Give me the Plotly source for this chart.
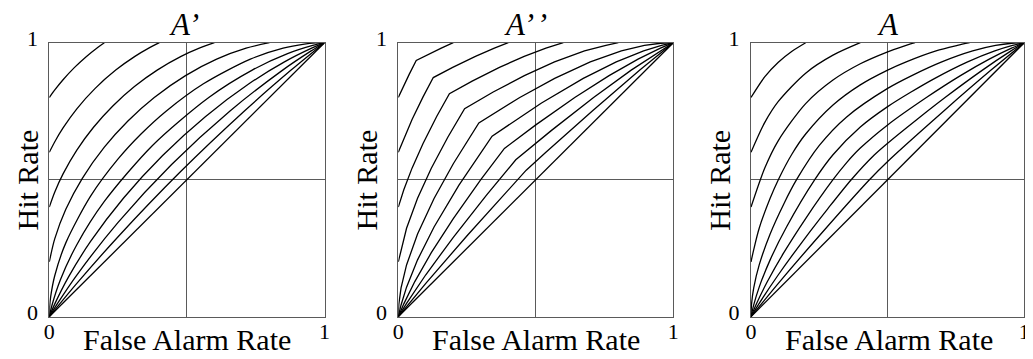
import plotly.graph_objects as go

# ---------------- data ----------------
panel_titles = ["A’", "A’\u200a’", "A"]
levels = [0.50, 0.55, 0.60, 0.65, 0.70, 0.75, 0.80, 0.85, 0.90, 0.95]
tick_vals = [0, 0.5, 1]
tick_text = ["0", "", "1"]

# Panel 1: A'  (false-alarm rate / hit rate per curve)
aprime_far = [
    [0, 1],
    [0, 0.1, 0.25, 0.4737, 0.708, 0.8786, 1],
    [0, 0.03, 0.1, 0.25, 0.4444, 0.6556, 0.848, 0.9515, 1],
    [0, 0.02, 0.07, 0.15, 0.27, 0.4118, 0.5669, 0.7255, 0.8545, 0.9532, 1],
    [0, 0.01, 0.04, 0.1, 0.2, 0.375, 0.5795, 0.7373, 0.8658, 0.9571, 1],
    [0, 0.001, 0.005, 0.02, 0.06, 0.15, 0.25, 0.3333, 0.4243, 0.5601, 0.7306, 0.8496, 0.9269, 0.9679, 1],
    [0, 0.02, 0.06, 0.12, 0.2, 0.2857, 0.3814, 0.4949, 0.6081, 0.7152, 0.8],
    [0, 0.02, 0.05, 0.1, 0.16, 0.2308, 0.3094, 0.392, 0.4789, 0.5449, 0.6],
    [0, 0.02, 0.05, 0.1, 0.1667, 0.2414, 0.3111, 0.3613, 0.4],
    [0, 0.02, 0.05, 0.0909, 0.1351, 0.1723, 0.2],
]
aprime_hit = [
    [0, 1],
    [0, 0.1214, 0.292, 0.5263, 0.75, 0.9, 1],
    [0, 0.0485, 0.152, 0.3444, 0.5556, 0.75, 0.9, 0.97, 1],
    [0, 0.0468, 0.1455, 0.2745, 0.4331, 0.5882, 0.73, 0.85, 0.93, 0.98, 1],
    [0, 0.0429, 0.1342, 0.2627, 0.4205, 0.625, 0.8, 0.9, 0.96, 0.99, 1],
    [0, 0.0321, 0.0731, 0.1504, 0.2694, 0.4399, 0.5757, 0.6667, 0.75, 0.85, 0.94, 0.98, 0.995, 0.999, 1],
    [0.2, 0.2848, 0.3919, 0.5051, 0.6186, 0.7143, 0.8, 0.88, 0.94, 0.98, 1],
    [0.4, 0.4551, 0.5212, 0.608, 0.6906, 0.7692, 0.84, 0.9, 0.95, 0.98, 1],
    [0.6, 0.6387, 0.6889, 0.7586, 0.8333, 0.9, 0.95, 0.98, 1],
    [0.8, 0.8277, 0.8649, 0.9091, 0.95, 0.98, 1],
]

# Panel 2: A''
adbl_far = [
    [0, 1],
    [0, 0.1, 0.25, 0.4, 0.4652, 0.5367, 0.7044, 0.8783, 1],
    [0, 0.03, 0.1, 0.2, 0.32, 0.4272, 0.5572, 0.7101, 0.8469, 0.9515, 1],
    [0, 0.02, 0.06, 0.12, 0.2, 0.3, 0.3859, 0.5, 0.6417, 0.7664, 0.8718, 0.9531, 1],
    [0, 0.01, 0.03, 0.07, 0.13, 0.22, 0.3411, 0.5208, 0.6727, 0.7926, 0.8921, 0.9571, 1],
    [0, 0.002, 0.01, 0.03, 0.07, 0.13, 0.2, 0.2929, 0.4417, 0.5686, 0.6981, 0.8111, 0.8949, 0.9543, 1],
    [0, 0.01, 0.03, 0.07, 0.12, 0.18, 0.2411, 0.3451, 0.4584, 0.568, 0.6771, 0.755, 0.8],
    [0, 0.02, 0.05, 0.09, 0.14, 0.1859, 0.2686, 0.3677, 0.4578, 0.5368, 0.6],
    [0, 0.02, 0.05, 0.09, 0.1272, 0.1978, 0.2805, 0.3493, 0.4],
    [0, 0.02, 0.04, 0.0652, 0.1148, 0.1563, 0.2],
]
adbl_hit = [
    [0, 1],
    [0, 0.1217, 0.2956, 0.4633, 0.5348, 0.6, 0.75, 0.9, 1],
    [0, 0.0485, 0.1531, 0.2899, 0.4428, 0.5728, 0.68, 0.8, 0.9, 0.97, 1],
    [0, 0.0469, 0.1282, 0.2336, 0.3583, 0.5, 0.6141, 0.7, 0.8, 0.88, 0.94, 0.98, 1],
    [0, 0.0429, 0.1079, 0.2074, 0.3273, 0.4792, 0.6589, 0.78, 0.87, 0.93, 0.97, 0.99, 1],
    [0, 0.0457, 0.1051, 0.1889, 0.3019, 0.4314, 0.5583, 0.7071, 0.8, 0.87, 0.93, 0.97, 0.99, 0.998, 1],
    [0.2, 0.245, 0.3229, 0.432, 0.5416, 0.6549, 0.7589, 0.82, 0.88, 0.93, 0.97, 0.99, 1],
    [0.4, 0.4632, 0.5422, 0.6323, 0.7314, 0.8141, 0.86, 0.91, 0.95, 0.98, 1],
    [0.6, 0.6507, 0.7195, 0.8022, 0.8728, 0.91, 0.95, 0.98, 1],
    [0.8, 0.8437, 0.8852, 0.9349, 0.96, 0.98, 1],
]

# Panel 3: A
a_far = [
    [0, 1],
    [0, 0.1, 0.25, 0.4333, 0.5, 0.7044, 0.8783, 1],
    [0, 0.03, 0.1, 0.2, 0.28, 0.3667, 0.45, 0.5, 0.6072, 0.7101, 0.8469, 0.9515, 1],
    [0, 0.02, 0.06, 0.12, 0.2, 0.3, 0.35, 0.4, 0.5, 0.6417, 0.7664, 0.8718, 0.9531, 1],
    [0, 0.01, 0.03, 0.07, 0.13, 0.2333, 0.3, 0.4, 0.5, 0.5856, 0.6727, 0.7926, 0.8921, 0.9571, 1],
    [0, 0.002, 0.01, 0.03, 0.07, 0.12, 0.1667, 0.25, 0.35, 0.5, 0.5884, 0.6981, 0.8111, 0.8949, 0.9543, 1],
    [0, 0.01, 0.03, 0.07, 0.1, 0.15, 0.2, 0.3, 0.4, 0.5, 0.568, 0.6771, 0.755, 0.8],
    [0, 0.05, 0.1, 0.2, 0.3, 0.4, 0.5, 0.5516, 0.6],
    [0, 0.05, 0.1, 0.2, 0.3, 0.4],
    [0, 0.05, 0.1, 0.15, 0.2],
]
a_hit = [
    [0, 1],
    [0, 0.1217, 0.2956, 0.5, 0.5667, 0.75, 0.9, 1],
    [0, 0.0485, 0.1531, 0.2899, 0.3928, 0.5, 0.5893, 0.6333, 0.72, 0.8, 0.9, 0.97, 1],
    [0, 0.0469, 0.1282, 0.2336, 0.3583, 0.5, 0.5625, 0.6154, 0.7, 0.8, 0.88, 0.94, 0.98, 1],
    [0, 0.0429, 0.1079, 0.2074, 0.3273, 0.5, 0.5909, 0.6923, 0.7667, 0.82, 0.87, 0.93, 0.97, 0.99, 1],
    [0, 0.0457, 0.1051, 0.1889, 0.3019, 0.4116, 0.5, 0.625, 0.7292, 0.8333, 0.88, 0.93, 0.97, 0.99, 0.998, 1],
    [0.2, 0.245, 0.3229, 0.432, 0.5, 0.5938, 0.6667, 0.7727, 0.8462, 0.9, 0.93, 0.97, 0.99, 1],
    [0.4, 0.5417, 0.6429, 0.7778, 0.8636, 0.9231, 0.9667, 0.985, 1],
    [0.6, 0.7083, 0.7857, 0.8889, 0.9545, 1],
    [0.8, 0.875, 0.9286, 0.9688, 1],
]

# ---------------- layout constants ----------------
# The page body has an 8px margin, so the figure is drawn 8px smaller and
# every position (measured in window pixels) is shifted by that offset.
OFF = 8
W, H = 1033 - OFF, 359 - OFF
x_domains_px = [(49.3, 324.5), (398.3, 673.3), (751.0, 1024.3)]
y_domain_px = (42.7, 316.7)
title_x_px = [184, 525, 887.5]
title_y_px = 25
ylab_x_px = [26.5, 365.5, 718.7]
ylab_y_px = 180
xlab_x_px = [187, 536, 889]
xlab_y_px = 339.5


def px_x(p):
    return (p - OFF) / W


def px_y(p):
    return 1 - (p - OFF) / H


SERIF = "Liberation Serif, Times New Roman, serif"
FRAME = "#5a5a5a"

fig = go.Figure()

panels = [
    (aprime_far, aprime_hit, "spline"),
    (adbl_far, adbl_hit, "linear"),
    (a_far, a_hit, "spline"),
]

for i, (fx, hy, shape) in enumerate(panels):
    sfx = "" if i == 0 else str(i + 1)
    for lev, xs, ys in zip(levels, fx, hy):
        fig.add_trace(go.Scatter(
            x=xs, y=ys, mode="lines",
            line=dict(color="black", width=1.3, shape=shape, smoothing=0.8),
            xaxis="x" + sfx, yaxis="y" + sfx,
            name=f"{panel_titles[i]} = {lev:.2f}",
            showlegend=False, hoverinfo="skip",
        ))

layout_axes = {}
ydom = [px_y(y_domain_px[1]), px_y(y_domain_px[0])]
for i in range(3):
    sfx = "" if i == 0 else str(i + 1)
    xd = [px_x(x_domains_px[i][0]), px_x(x_domains_px[i][1])]
    common = dict(
        range=[0, 1], showline=True, mirror=True, linecolor=FRAME, linewidth=1,
        showgrid=True, gridcolor=FRAME, gridwidth=1, zeroline=False,
        tickvals=tick_vals, ticktext=tick_text, ticks="",
        tickfont=dict(family=SERIF, size=22, color="black"),
        fixedrange=True, automargin=False,
    )
    layout_axes["xaxis" + sfx] = dict(common, domain=xd, anchor="y" + sfx,
                                      ticklabelstandoff=-5)
    layout_axes["yaxis" + sfx] = dict(common, domain=ydom, anchor="x" + sfx,
                                      ticklabelstandoff=6, ticklabelshift=-4)

annotations = []
for i in range(3):
    annotations.append(dict(
        text=f"<i>{panel_titles[i]}</i>", xref="paper", yref="paper",
        x=px_x(title_x_px[i]), y=px_y(title_y_px), xanchor="center", yanchor="middle",
        showarrow=False, font=dict(family=SERIF, size=31, color="black")))
    annotations.append(dict(
        text="Hit Rate", xref="paper", yref="paper", textangle=-90,
        x=px_x(ylab_x_px[i]), y=px_y(ylab_y_px), xanchor="center", yanchor="middle",
        showarrow=False, font=dict(family=SERIF, size=30, color="black")))
    annotations.append(dict(
        text="False Alarm Rate", xref="paper", yref="paper",
        x=px_x(xlab_x_px[i]), y=px_y(xlab_y_px), xanchor="center", yanchor="middle",
        showarrow=False, font=dict(family=SERIF, size=30, color="black")))

fig.update_layout(
    template="none",
    width=W, height=H, autosize=False,
    margin=dict(l=0, r=0, t=0, b=0, pad=0),
    paper_bgcolor="white", plot_bgcolor="white",
    showlegend=False,
    annotations=annotations,
    **layout_axes,
)

fig.write_html("out.html")
